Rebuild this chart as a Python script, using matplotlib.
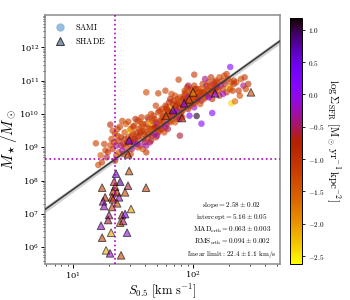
import numpy as np
import matplotlib
matplotlib.use("Agg")
import matplotlib.pyplot as plt
from matplotlib.lines import Line2D
from matplotlib import ticker

plt.rcParams['mathtext.fontset'] = 'cm'
plt.rcParams['font.family'] = 'serif'
plt.rcParams['font.serif'] = ['DejaVu Serif']

# SAMI galaxies: log10 S0.5 [km/s], log10 M*/Msun, log Sigma_SFR
sami_s = [1.19, 1.21, 1.24, 1.23, 1.27, 1.29, 1.31, 1.31, 1.26, 1.28,
          1.32, 1.33, 1.35, 1.36, 1.37, 1.38, 1.40, 1.41, 1.42, 1.43,
          1.44, 1.34, 1.36, 1.39, 1.41, 1.43, 1.44, 1.38, 1.33, 1.42,
          1.40, 1.37, 1.45, 1.35,
          1.46, 1.47, 1.48, 1.49, 1.50, 1.51, 1.52, 1.53, 1.54, 1.55,
          1.56, 1.57, 1.58, 1.59, 1.46, 1.48, 1.50, 1.52, 1.54, 1.56,
          1.58, 1.47, 1.49, 1.51, 1.53, 1.55, 1.57, 1.59, 1.60, 1.50,
          1.54, 1.58, 1.48, 1.56,
          1.60, 1.61, 1.62, 1.63, 1.64, 1.65, 1.66, 1.67, 1.68, 1.69,
          1.70, 1.71, 1.72, 1.73, 1.74, 1.61, 1.62, 1.63, 1.64, 1.65,
          1.66, 1.67, 1.68, 1.69, 1.70, 1.71, 1.72, 1.73, 1.74, 1.75,
          1.62, 1.64, 1.66, 1.68, 1.70, 1.72, 1.74, 1.61, 1.65, 1.69,
          1.75, 1.76, 1.77, 1.78, 1.79, 1.80, 1.81, 1.82, 1.83, 1.84,
          1.85, 1.86, 1.87, 1.88, 1.89, 1.76, 1.77, 1.78, 1.79, 1.80,
          1.81, 1.82, 1.83, 1.84, 1.85, 1.86, 1.87, 1.88, 1.89, 1.90,
          1.77, 1.79, 1.81, 1.83, 1.85, 1.87, 1.89, 1.78, 1.82, 1.86,
          1.90, 1.91, 1.92, 1.93, 1.94, 1.95, 1.96, 1.97, 1.98, 1.99,
          2.00, 2.01, 2.02, 2.03, 2.04, 1.91, 1.92, 1.93, 1.94, 1.95,
          1.96, 1.97, 1.98, 1.99, 2.00, 2.01, 2.02, 2.03, 2.04, 2.05,
          1.92, 1.94, 1.96, 1.98, 2.00, 2.02, 2.04, 1.93, 1.97, 2.01,
          2.05, 2.06, 2.07, 2.08, 2.09, 2.10, 2.11, 2.12, 2.13, 2.14,
          2.15, 2.16, 2.17, 2.18, 2.19, 2.06, 2.08, 2.10, 2.12, 2.14,
          2.16, 2.18, 2.20, 2.07, 2.09, 2.11, 2.13, 2.15, 2.17, 2.19,
          2.20, 2.21, 2.22, 2.23, 2.24, 2.25, 2.26, 2.27, 2.28, 2.29,
          2.30, 2.31, 2.32, 2.33, 2.34, 2.22, 2.25, 2.28, 2.31, 2.34,
          2.36, 2.38, 2.40, 2.42, 2.44, 2.46, 2.39, 2.43,
          2.32, 2.35, 2.16, 2.07, 2.03, 1.88, 2.01, 1.61, 1.71, 1.89]
sami_m = [9.12, 8.47, 8.55, 8.76, 8.91, 8.86, 9.06, 9.68, 9.10, 8.70,
          9.25, 8.95, 9.40, 9.05, 9.55, 8.85, 9.30, 9.79, 9.10, 9.45,
          9.00, 9.15, 8.75, 9.62, 8.90, 9.25, 9.70, 9.20, 9.50, 8.80,
          9.05, 9.35, 9.15, 8.60,
          9.30, 9.10, 9.55, 8.95, 9.40, 9.65, 9.20, 9.45, 9.80, 9.35,
          9.05, 9.60, 9.50, 9.25, 9.77, 8.80, 9.15, 9.85, 9.00, 9.45,
          9.70, 9.50, 9.35, 9.25, 9.10, 9.55, 9.90, 9.40, 9.15, 9.62,
          9.30, 8.95, 9.20, 9.75,
          9.45, 9.70, 9.30, 9.85, 9.55, 9.20, 9.65, 9.95, 9.40, 9.75,
          9.60, 10.05, 9.50, 9.80, 9.90, 9.05, 9.60, 9.40, 9.75, 10.00,
          9.35, 9.55, 9.85, 9.30, 9.70, 9.45, 10.10, 9.65, 9.55, 9.95,
          9.90, 9.15, 9.80, 9.60, 9.35, 9.75, 10.15, 8.85, 9.50, 10.25,
          9.80, 10.05, 9.60, 10.20, 9.90, 10.35, 9.75, 10.10, 9.95, 10.40,
          10.15, 9.85, 10.30, 10.05, 10.50, 9.45, 10.25, 9.70, 10.10, 9.95,
          10.45, 9.80, 10.20, 10.00, 10.55, 10.10, 9.90, 10.35, 10.20, 10.00,
          10.70, 9.55, 10.05, 10.30, 9.75, 10.45, 9.85, 10.15, 10.60, 10.25,
          10.30, 10.10, 10.50, 10.25, 10.65, 10.40, 10.15, 10.55, 10.35, 10.70,
          10.45, 10.20, 10.60, 10.40, 10.75, 9.90, 10.45, 10.60, 10.30, 10.80,
          10.50, 10.25, 10.75, 10.45, 10.60, 10.85, 10.35, 10.55, 10.45, 10.65,
          10.20, 10.40, 10.85, 10.55, 10.30, 10.75, 10.50, 10.70, 9.95, 10.50,
          10.55, 10.75, 10.40, 10.90, 10.65, 10.50, 10.85, 10.70, 10.95, 10.60,
          10.80, 10.45, 10.90, 10.70, 11.00, 10.30, 10.60, 11.05, 10.55, 10.85,
          10.70, 10.95, 10.80, 10.65, 10.45, 10.75, 10.50, 11.10, 10.60, 10.85,
          10.95, 10.70, 11.10, 10.85, 11.00, 10.75, 11.15, 10.90, 10.65, 11.05,
          10.80, 11.41, 10.95, 10.70, 11.00, 10.55, 10.60, 11.20, 10.75, 10.90,
          10.95, 10.70, 11.05, 10.85, 10.75, 10.90, 10.55, 11.10,
          10.32, 10.38, 10.03, 9.71, 9.94, 11.03, 11.18, 10.65, 10.62, 9.35]
sami_sfr = [-1.2, -1.3, -1.1, -1.4, -1.2, -1.0, -1.3, -0.9, -1.2, -0.6,
            -1.2, -1.0, -1.3, -0.3, -1.1, -1.4, -0.8, -1.2, -0.9, -1.3,
            -1.1, -0.9, -1.3, -1.2, -0.2, -1.0, -1.5, -0.8, -1.2, -1.1,
            -0.5, -1.3, -0.9, -1.1,
            -1.1, -1.3, -0.9, -0.4, -1.2, -1.0, -1.4, -0.9, -1.1, -1.3,
            -0.1, -1.2, -1.0, -1.3, -1.2, -1.1, -0.3, -0.9, -1.3, -0.7,
            -1.2, -2.2, -1.1, -0.8, -0.2, -1.3, -1.1, -1.0, -0.5, -1.2,
            -0.8, -1.4, -1.0, -1.3,
            -1.2, -1.0, -1.3, -0.4, -1.1, -0.9, -1.4, -1.2, -0.2, -1.3,
            -0.8, -1.1, -1.2, -0.8, -1.3, -0.3, -1.2, -1.0, -2.3, -1.2,
            -0.6, -1.3, -0.9, -1.1, -0.1, -1.2, -1.1, -1.4, -0.8, -1.0,
            -1.3, -0.5, -1.2, -0.8, -0.3, -1.3, -1.1, -1.0, -1.4, -1.2,
            -1.1, -1.3, -0.2, -1.2, -1.0, -0.9, -1.3, -1.2, -0.4, -1.1,
            -1.4, -0.9, -1.2, -0.1, -1.3, -1.2, -1.0, -0.5, -1.3, -1.1,
            -0.8, -1.2, -2.2, -1.0, -1.3, -0.3, -1.2, -1.1, -0.7, -1.3,
            -1.2, -0.6, -1.1, -0.9, -1.4, -1.2, -0.2, -1.0, -1.3, -0.8,
            -1.2, -1.0, -1.3, -0.3, -1.1, -1.3, -0.8, -1.2, -0.5, -1.1,
            -1.3, -0.2, -1.2, -1.0, -1.4, -1.2, -0.8, -1.1, -1.3, -1.2,
            -0.1, -1.0, -1.2, -1.3, -0.4, -1.1, -1.4, -2.1, -0.9, -1.2,
            -1.3, -1.0, -0.6, -1.2, -1.1, -0.8, -0.3, -1.3, 0.2, -1.2,
            -1.1, -1.3, -0.3, -1.2, -1.0, -1.3, -0.5, -1.1, -1.2, -0.9,
            -1.3, -0.9, -0.2, -1.2, -1.1, -1.3, -1.2, -0.4, -1.0, -1.3,
            -0.8, -1.2, -0.6, -1.1, -1.4, -1.2, -0.1, -1.0, -1.3, -1.1,
            -1.2, -1.0, -1.3, -0.3, -1.1, -1.2, -1.3, -0.6, -1.1, -1.2,
            -2.3, 0.1, -1.3, -1.1, -1.2, -0.9, -0.2, -1.2, -1.3, -1.0,
            -1.2, -1.1, -1.3, -0.4, -1.2, -1.0, -1.3, -1.1,
            -2.4, -1.6, 0.1, 0.1, 1.1, -1.2, -1.1, -1.3, -1.2, -0.6]

# SHADE galaxies
shade_s = [1.358, 1.392, 1.467, 1.242, 1.458, 1.608, 1.350, 1.333, 1.367, 1.433,
           1.267, 1.250, 1.325, 1.383, 1.333, 1.258, 1.367, 1.325, 1.483, 1.300,
           1.408, 1.433, 1.292, 1.392, 1.417, 1.233, 1.450, 1.317, 1.242, 1.275,
           1.308, 1.400, 1.467, 1.458, 1.833, 1.908, 2.000, 2.183, 2.483, 1.925,
           1.967, 1.775, 1.342]
shade_m = [8.21, 7.97, 8.29, 7.79, 7.85, 7.79, 7.82, 7.68, 7.65, 7.65,
           7.50, 7.38, 7.50, 7.50, 7.44, 7.24, 7.32, 7.21, 7.15, 6.97,
           6.97, 7.00, 6.82, 6.74, 6.79, 6.65, 6.44, 6.44, 6.29, 5.91,
           5.82, 5.76, 9.21, 8.79, 10.12, 9.88, 10.65, 10.62, 10.65, 10.32,
           10.44, 9.94, 7.97]
shade_sfr = [0.6, 0.8, -1.3, -1.2, -0.6, -1.2, -1.0, -1.0, -0.8, -1.3,
             -0.9, -0.3, -1.1, -0.2, -1.0, -0.2, -1.3, -1.2, -2.0, -0.4,
             -1.1, 0.3, -0.6, -1.6, -0.5, -0.2, -0.1, -2.1, -1.2, -2.2,
             -0.2, -1.2, 0.4, -0.8, 0.5, -0.9, -2.0, 0.2, -1.3, 0.3,
             -1.5, -1.2, -0.9]

slope, intercept = 2.58, 5.16
slope_err, intercept_err = 0.02, 0.05
lin_lim = 22.4

vmin, vmax = -2.62, 1.18
cmap = 'gnuplot_r'

fig = plt.figure(figsize=(3.5, 3.0), dpi=100)
ax = fig.add_axes([0.129, 0.12, 0.671, 0.83])
cax = fig.add_axes([0.829, 0.12, 0.034, 0.82])

xlim = (10**0.767, 10**2.725)
ylim = (10**5.5, 10**12.97)

# fit line with uncertainty band
lx = np.linspace(np.log10(xlim[0]), np.log10(xlim[1]), 200)
ly = slope * lx + intercept
err = 2.5 * np.sqrt((slope_err * (lx - 1.8))**2 + (0.6 * intercept_err)**2)
ax.fill_between(10**lx, 10**(ly - err), 10**(ly + err), color='0.7', alpha=0.6, lw=0, zorder=1)
ax.plot(10**lx, 10**ly, color='#3c3c3c', lw=1.2, zorder=4)

ax.scatter(10**np.array(sami_s), 10**np.array(sami_m), c=sami_sfr, cmap=cmap,
           vmin=vmin, vmax=vmax, s=22, alpha=0.62, lw=0, zorder=2)
sc = ax.scatter(10**np.array(shade_s), 10**np.array(shade_m), c=shade_sfr, cmap=cmap,
                vmin=vmin, vmax=vmax, s=30, marker='^', alpha=0.6,
                edgecolors='k', linewidths=0.7, zorder=3)

ax.axvline(lin_lim, color='#b000c0', ls=':', lw=1.2, zorder=5)
ax.axhline(10**(slope * np.log10(lin_lim) + intercept), color='#b000c0', ls=':', lw=1.2, zorder=5)

ax.set_xscale('log')
ax.set_yscale('log')
ax.set_xlim(xlim)
ax.set_ylim(ylim)
ax.yaxis.set_major_locator(ticker.LogLocator(base=10, numticks=20))
ax.yaxis.set_minor_locator(ticker.LogLocator(base=10, subs=np.arange(2, 10), numticks=100))
ax.yaxis.set_minor_formatter(ticker.NullFormatter())
ax.xaxis.set_minor_locator(ticker.LogLocator(base=10, subs=np.arange(2, 10), numticks=100))
ax.xaxis.set_minor_formatter(ticker.NullFormatter())
ax.tick_params(which='major', length=3, width=0.7, labelsize=6, pad=1.2)
ax.tick_params(which='minor', length=1.5, width=0.5)
for sp in ax.spines.values():
    sp.set_color('0.55')
    sp.set_linewidth(1.1)

ax.set_xlabel(r'$S_{0.5}\ [\mathrm{km\ s^{-1}}]$', fontsize=9)
ax.xaxis.set_label_coords(0.5, -0.068)
ax.set_ylabel(r'$M_\star/M_\odot$', fontsize=11, labelpad=0)

txt = (r'$\mathrm{slope} = 2.58 \pm 0.02$' + '\n' +
       r'$\mathrm{intercept} = 5.16 \pm 0.05$' + '\n' +
       r'$\mathrm{MAD_{orth}} = 0.063 \pm 0.003$' + '\n' +
       r'$\mathrm{RMS_{orth}} = 0.094 \pm 0.002$' + '\n' +
       r'$\mathrm{linear\ limit} : 22.4 \pm 1.1\ \mathrm{km/s}$')
ax.text(0.985, 0.015, txt, transform=ax.transAxes, ha='right', va='bottom',
        multialignment='center', fontsize=5.2, linespacing=1.3, zorder=6)

handles = [Line2D([], [], marker='o', ls='', color='#8db6dc', markersize=5, alpha=0.9),
           Line2D([], [], marker='^', ls='', markerfacecolor='#7f9ab3', markeredgecolor='#333333',
                  markersize=6, markeredgewidth=0.7)]
ax.legend(handles, [r'$\mathrm{SAMI}$', r'$\mathrm{SHADE}$'], loc='upper left', frameon=False,
          fontsize=6, handletextpad=0.8, borderaxespad=0.4, labelspacing=0.5)

cb = fig.colorbar(sc, cax=cax)
cb.solids.set_alpha(1)
cb.set_ticks([-2.5, -2.0, -1.5, -1.0, -0.5, 0.0, 0.5, 1.0])
cb.ax.yaxis.set_major_formatter(ticker.FormatStrFormatter(r'$%.1f$'))
cb.ax.tick_params(labelsize=5.2, length=2, width=0.6, pad=2)
cb.outline.set_linewidth(0.7)
cb.set_label(r'$\log\Sigma_{\rm SFR}\ [\mathrm{M}_\odot\,\mathrm{yr}^{-1}\,\mathrm{kpc}^{-2}]$',
             rotation=270, fontsize=8, labelpad=12)

fig.savefig('out.png', dpi=100)
